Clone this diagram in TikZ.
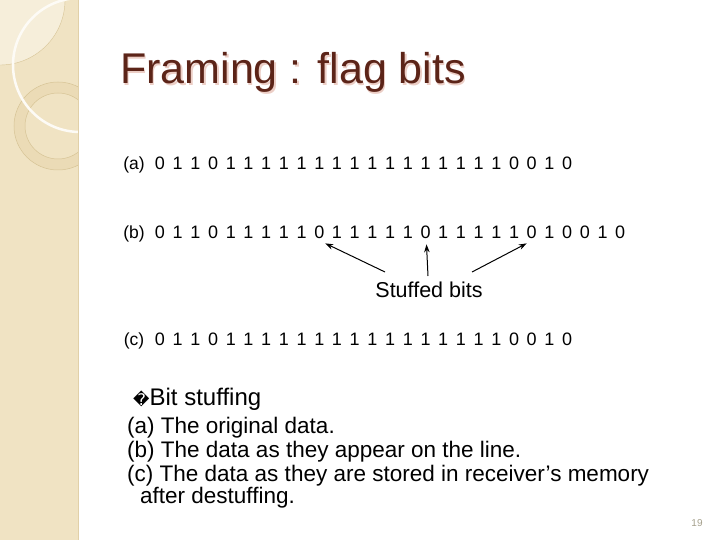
\documentclass[tikz,border=0pt]{standalone}
\usepackage{fontspec}
\setmainfont{Liberation Sans}
\newfontfamily\symfont{DejaVu Sans}
\usetikzlibrary{arrows.meta,calc}
\definecolor{strip}{RGB}{240,227,195}
\definecolor{striplight}{RGB}{246,238,218}
\definecolor{stripdark}{RGB}{235,219,182}
\definecolor{stripline}{RGB}{215,196,150}
\definecolor{titlecol}{RGB}{92,36,24}
\definecolor{shadowcol}{RGB}{236,206,198}
\definecolor{pagecol}{RGB}{165,160,140}
\tikzset{
  digit/.style={anchor=base, inner sep=0pt, font=\fontsize{18}{20}\selectfont},
  rowlabel/.style={anchor=base, inner sep=0pt, font=\fontsize{17.5}{20}\selectfont},
  arr/.style={-{Stealth[length=8pt,width=5.5pt]}, line width=1pt, black},
  item/.style={anchor=base west, inner sep=0pt, font=\fontsize{22.5}{24}\selectfont},
}
\begin{document}
\begin{tikzpicture}[x=1pt,y=-1pt]
\useasboundingbox (0,0) rectangle (720,540);
\fill[white] (0,0) rectangle (720,540);
% left decorative strip
\fill[strip] (0,0) rectangle (78,540);
\begin{scope}
  \clip (0,0) rectangle (78,540);
  \fill[striplight] (0,0) circle (65pt);
  \draw[stripline, line width=0.4pt] (0,0) circle (65pt);
  \fill[stripdark, even odd rule] (58,126) circle (44pt) (58,126) circle (33pt);
  \draw[stripline, line width=0.5pt] (58,126) circle (44pt) (58,126) circle (33pt);
  \draw[white!85!strip, line width=2.5pt] (80,65) circle (67pt);
\end{scope}
\draw[stripline!60!strip, line width=0.5pt] (78,0) -- (78,540);
% title
\node[anchor=base west, inner sep=0pt, text=shadowcol, font=\fontsize{43}{48}\selectfont] at (121.5,85.5) {Framing : flag bits};
\node[anchor=base west, inner sep=0pt, text=titlecol, font=\fontsize{43}{48}\selectfont] (title) at (120,84) {Framing : flag bits};
% rows of bits
\node[rowlabel] (la) at (134,170) {(a)};
\node[rowlabel] (lb) at (134,238) {(b)};
\node[rowlabel] (lc) at (134,345) {(c)};
\foreach \d [count=\i from 0] in {0,1,1,0,1,1,1,1,1,1,1,1,1,1,1,1,1,1,1,1,0,0,1,0}
  \node[digit] (a\i) at ({160+17.7*\i},170) {\d};
\foreach \d [count=\i from 0] in {0,1,1,0,1,1,1,1,1,0,1,1,1,1,1,0,1,1,1,1,1,0,1,0,0,1,0}
  \node[digit] (b\i) at ({160+17.7*\i},238) {\d};
\foreach \d [count=\i from 0] in {0,1,1,0,1,1,1,1,1,1,1,1,1,1,1,1,1,1,1,1,0,0,1,0}
  \node[digit] (c\i) at ({160+17.7*\i},345) {\d};
% stuffed bits label and arrows
\node[anchor=base, inner sep=0pt, font=\fontsize{21.5}{24}\selectfont] (sb) at (429,297) {Stuffed bits};
\coordinate (t1) at (385,272);
\coordinate (t2) at (428,276);
\coordinate (t3) at (472,272);
\draw[arr] (t1) -- ($(b9.south)+(6,5)$);
\draw[arr] (t2) -- ($(b15.south)+(1,6)$);
\draw[arr] (t3) -- ($(b21.south)+(-5,5)$);
% bullet text
\node[anchor=base west, inner sep=0pt, font=\fontsize{24}{26}\selectfont] (bul) at (133,405) {{\symfont\fontsize{16}{18}\selectfont ^^^^fffd}Bit stuffing};
\node[item] (ia) at (127,433) {(a) The original data.};
\node[item] (ib) at (127,457) {(b) The data as they appear on the line.};
\node[item] (ic) at (127,481) {(c) The data as they are stored in receiver’s memory};
\node[item] (id) at (140,503) {after destuffing.};
% page number
\node[anchor=base, inner sep=0pt, text=pagecol, font=\fontsize{10}{12}\selectfont] (pg) at (697,526) {19};
\end{tikzpicture}
\end{document}
